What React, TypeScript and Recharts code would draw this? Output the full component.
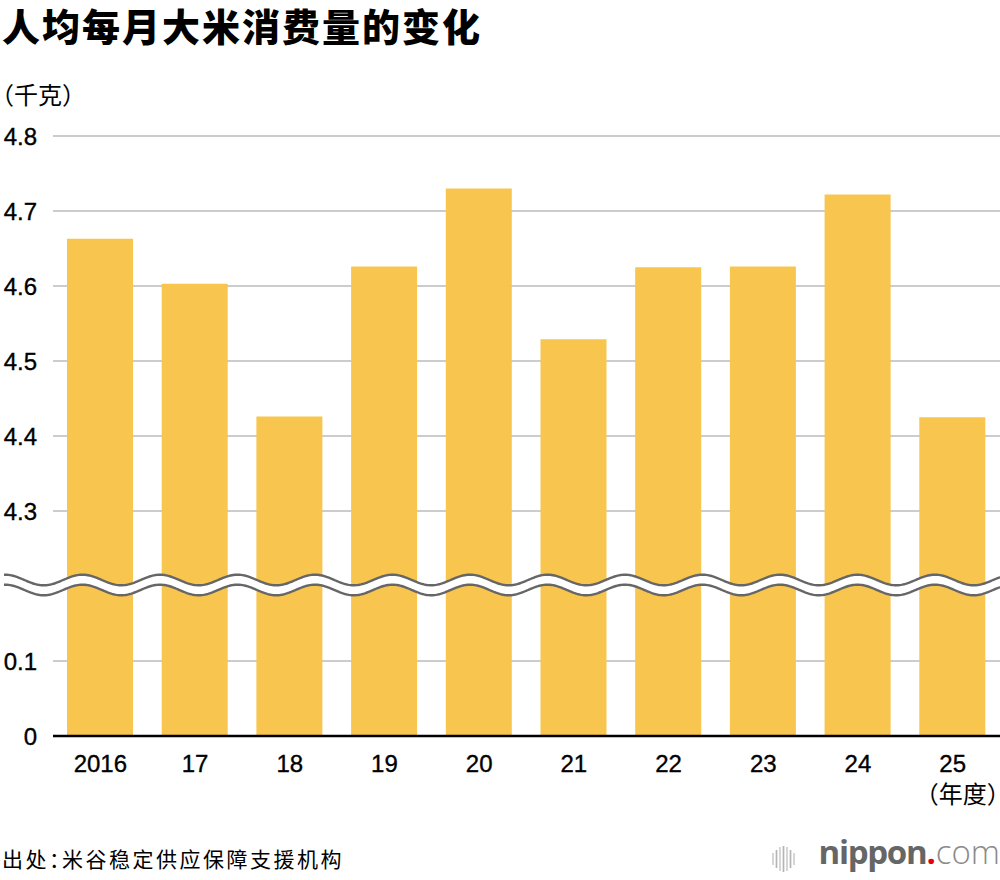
import React from "react";
import { BarChart, Bar, XAxis, YAxis, CartesianGrid, ReferenceArea } from "recharts";

// ---- data ----
const YEARS = ["2016", "17", "18", "19", "20", "21", "22", "23", "24", "25"];
const RICE_KG = [4.663, 4.603, 4.426, 4.626, 4.73, 4.529, 4.625, 4.626, 4.722, 4.425];
const Y_TICK_VALUES = [0, 0.1, 4.3, 4.4, 4.5, 4.6, 4.7, 4.8];
const Y_TICK_LABELS = ["0", "0.1", "4.3", "4.4", "4.5", "4.6", "4.7", "4.8"];
const TITLE = "人均每月大米消费量的变化";
const UNIT_Y = "（千克）";
const UNIT_X = "（年度）";
const SOURCE = "出处：米谷稳定供应保障支援机构";

// axis break: values above BREAK_TOP are shifted down by BREAK_OFFSET
const BREAK_TOP = 4.3;
const BREAK_OFFSET = 4.0;
const toDisplay = (v: number) => Math.round((v >= BREAK_TOP ? v - BREAK_OFFSET : v) * 10000) / 10000;

const data = YEARS.map((year, i) => ({ year, value: RICE_KG[i], display: toDisplay(RICE_KG[i]) }));
const displayTicks = Y_TICK_VALUES.map(toDisplay);

const BAR_COLOR = "#F8C54E";
const NUM_FONT = "'Liberation Sans', Arial, Helvetica, sans-serif";
const CJK_FONT = "'Noto Sans CJK SC', 'Noto Sans', sans-serif";

const WAVE_PERIOD = 77.5;
const WAVE_AMP = 5.3;

const BreakShape = (props: any) => {
  const { x, y, width, height } = props;
  const left = 4;
  const right = x + width;
  const cy = y + height / 2;
  const half = height / 2;
  const up: [number, number][] = [];
  const lo: [number, number][] = [];
  for (let px = left; px <= right + 0.01; px += 1.5) {
    const w = -WAVE_AMP * Math.cos((2 * Math.PI * (px - left - 1)) / WAVE_PERIOD);
    up.push([px, cy - half + w]);
    lo.push([px, cy + half + w]);
  }
  const line = (pts: [number, number][]) =>
    pts.map((p, i) => `${i === 0 ? "M" : "L"}${p[0].toFixed(2)},${p[1].toFixed(2)}`).join(" ");
  const fillPath =
    line(up) +
    " " +
    lo
      .slice()
      .reverse()
      .map((p) => `L${p[0].toFixed(2)},${p[1].toFixed(2)}`)
      .join(" ") +
    " Z";
  return (
    <g>
      <path d={fillPath} fill="#ffffff" stroke="none" />
      <path d={line(up)} fill="none" stroke="#666666" strokeWidth={2.4} />
      <path d={line(lo)} fill="none" stroke="#666666" strokeWidth={2.4} />
    </g>
  );
};

const XTick = (props: any) => {
  const { x, y, payload, index } = props;
  return (
    <g>
      <text
        x={x}
        y={y}
        dy={17}
        textAnchor="middle"
        fill="#000"
        stroke="#000"
        strokeWidth={0.35}
        fontSize={24}
        fontFamily={NUM_FONT}
      >
        {payload.value}
      </text>
      {index === YEARS.length - 1 && (
        <text
          x={x + 10}
          y={y}
          dy={48}
          textAnchor="middle"
          fill="#000"
          fontSize={24}
          fontFamily={CJK_FONT}
          style={{ fontFeatureSettings: "'halt'" }}
        >
          {UNIT_X}
        </text>
      )}
    </g>
  );
};

const YTick = (props: any) => {
  const { x, y, payload } = props;
  const i = displayTicks.indexOf(payload.value);
  return (
    <text
      x={x}
      y={y}
      dy={8.5}
      textAnchor="end"
      fill="#000"
      stroke="#000"
      strokeWidth={0.35}
      fontSize={24}
      fontFamily={NUM_FONT}
    >
      {i >= 0 ? Y_TICK_LABELS[i] : String(payload.value)}
    </text>
  );
};

const LogoIcon = () => {
  const heights = [12, 18, 24, 26, 24, 18, 12];
  return (
    <svg width={26} height={28} style={{ position: "absolute", left: 771, top: 845 }}>
      {heights.map((h, i) => (
        <line
          key={i}
          x1={2 + i * 3.5}
          x2={2 + i * 3.5}
          y1={14 - h / 2}
          y2={14 + h / 2}
          stroke={i % 2 === 0 ? "#cfcfcf" : "#b5b5b5"}
          strokeWidth={1.7}
        />
      ))}
    </svg>
  );
};

export default function App() {
  return (
    <div
      style={{
        position: "absolute",
        left: 0,
        top: 0,
        width: 1000,
        height: 880,
        background: "#fff",
      }}
    >
      <div
        style={{
          position: "absolute",
          left: 0,
          top: 0,
          width: 1000,
          height: 52,
          boxSizing: "border-box",
          paddingLeft: 2,
          paddingTop: 2,
          fontFamily: CJK_FONT,
          fontWeight: 900,
          fontSize: 38,
          lineHeight: 1.2,
          letterSpacing: 2,
          color: "#000",
          whiteSpace: "nowrap",
        }}
      >
        {TITLE}
      </div>
      <div
        style={{
          position: "absolute",
          left: 2,
          top: 80,
          fontFamily: CJK_FONT,
          fontSize: 24,
          lineHeight: 1.2,
          color: "#000",
          whiteSpace: "nowrap",
          fontFeatureSettings: "'halt'",
        }}
      >
        {UNIT_Y}
      </div>
      <div style={{ position: "absolute", left: 0, top: 0 }}>
        <BarChart width={1000} height={880} data={data} margin={{ top: 136, right: 0, bottom: 84, left: 0 }}>
          <CartesianGrid vertical={false} stroke="#cccccc" strokeWidth={2} />
          <XAxis
            dataKey="year"
            height={60}
            axisLine={{ stroke: "#000", strokeWidth: 2.6 }}
            tickLine={false}
            tickSize={0}
            tickMargin={19}
            interval={0}
            tick={<XTick />}
          />
          <YAxis
            width={53}
            domain={[0, 0.8]}
            ticks={displayTicks}
            interval={0}
            axisLine={false}
            tickLine={false}
            tickSize={0}
            tickMargin={16}
            tick={<YTick />}
          />
          <Bar dataKey="display" fill={BAR_COLOR} barSize={66} isAnimationActive={false} />
          <ReferenceArea
            y1={0.1947}
            y2={0.208}
            ifOverflow="visible"
            shape={<BreakShape />}
            {...({ zIndex: 1600 } as any)}
          />
        </BarChart>
      </div>
      <div
        style={{
          position: "absolute",
          left: 2,
          top: 846,
          fontFamily: CJK_FONT,
          fontSize: 21,
          lineHeight: 1.2,
          letterSpacing: 2.5,
          color: "#000",
          whiteSpace: "nowrap",
          fontFeatureSettings: "'halt'",
        }}
      >
        {SOURCE}
      </div>
      <LogoIcon />
      <div
        style={{
          position: "absolute",
          right: 0,
          top: 832,
          fontFamily: "'Open Sans', 'Noto Sans', sans-serif",
          fontSize: 33,
          lineHeight: "40px",
          whiteSpace: "nowrap",
        }}
      >
        <span style={{ color: "#666", fontWeight: 700, letterSpacing: -1.3 }}>nippon</span>
        <span style={{ color: "#e60012", fontWeight: 700 }}>.</span>
        <span style={{ color: "#8a8a8a", fontWeight: 300 }}>com</span>
      </div>
    </div>
  );
}
